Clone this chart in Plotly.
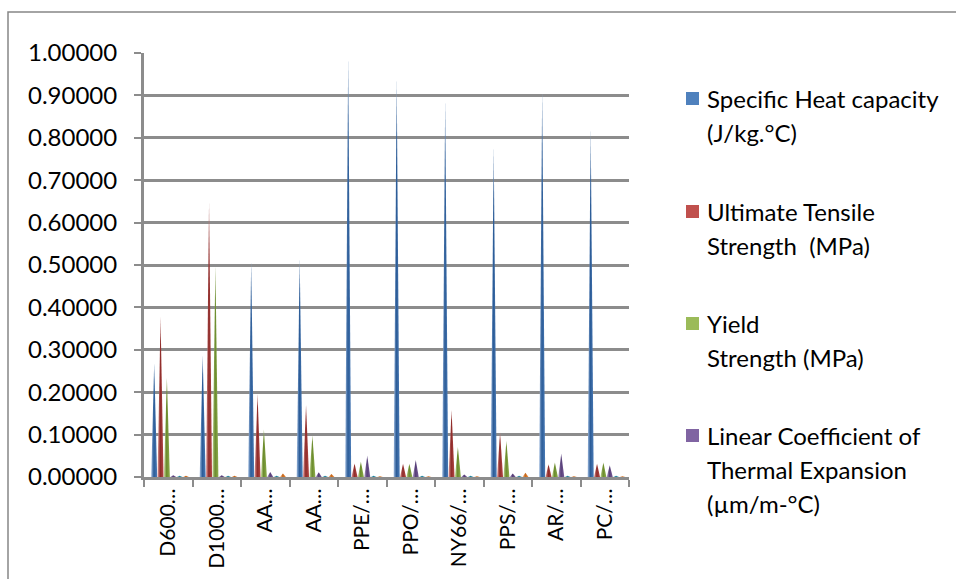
import plotly.graph_objects as go

# Materials (category labels as shown under the axis)
categories = ["D600…", "D1000…", "AA…", "AA…", "PPE/…", "PPO/…", "NY66/…", "PPS/…", "AR/…", "PC/…"]

# Normalised property values per material
specific_heat = [0.268, 0.287, 0.508, 0.516, 0.990, 0.942, 0.889, 0.780, 0.913, 0.823]
ultimate_tensile = [0.378, 0.646, 0.196, 0.170, 0.032, 0.031, 0.158, 0.105, 0.030, 0.031]
yield_strength = [0.234, 0.498, 0.112, 0.098, 0.036, 0.031, 0.071, 0.085, 0.034, 0.034]
thermal_expansion = [0.004, 0.004, 0.012, 0.011, 0.050, 0.040, 0.006, 0.008, 0.055, 0.028]
series_five = [0.003, 0.003, 0.003, 0.003, 0.003, 0.003, 0.003, 0.003, 0.003, 0.003]
series_six = [0.003, 0.003, 0.008, 0.007, 0.002, 0.002, 0.002, 0.010, 0.002, 0.002]

y_ticks = [0.0, 0.1, 0.2, 0.3, 0.4, 0.5, 0.6, 0.7, 0.8, 0.9, 1.0]

series = [
    ("Specific Heat capacity<br>(J/kg.°C)", specific_heat, "#4F81BD", ("#9DB9DE", "#2C5C97", "#4A7BB7"), True),
    ("Ultimate Tensile<br>Strength  (MPa)", ultimate_tensile, "#C0504D", ("#E29C9A", "#8E2C2A", "#B44744"), True),
    ("Yield<br>Strength (MPa)", yield_strength, "#9BBB59", ("#C9DC9F", "#6A8A2C", "#8FAF4E"), True),
    ("Linear Coefficient of<br>Thermal Expansion<br>(µm/m-°C)", thermal_expansion, "#8064A2", ("#B7A4CE", "#573F78", "#755A96"), True),
    ("Series 5", series_five, "#4BACC6", ("#96D0E0", "#237F98", "#44A1BA"), False),
    ("Series 6", series_six, "#F79646", ("#FBC99E", "#C4661A", "#EE8A38"), False),
]

# Pixel frame of the plotting area
W, H = 956, 579
PX_L, PX_R = 144, 629
PY_T, PY_B = 53, 477


def px(x):
    return (x - PX_L) / (PX_R - PX_L)


def py(y):
    return (PY_B - y) / (PY_B - PY_T)


first_offset, step, half_w = 0.21, 0.131, 0.062

fig = go.Figure()
for s, (name, vals, color, shades, _) in enumerate(series):
    light, dark, mid = shades
    for i, v in enumerate(vals):
        cx = i + first_offset + s * step
        fig.add_trace(go.Scatter(
            x=[cx - half_w, cx, cx + half_w, cx - half_w],
            y=[0, v, 0, 0],
            mode="lines",
            fill="toself",
            line=dict(width=0, color=color),
            fillgradient=dict(type="horizontal",
                              colorscale=[[0, light], [0.45, dark], [1, mid]]),
            name=name.replace("<br>", " "),
            showlegend=False,
            hoverinfo="skip",
        ))
        # pale fade toward the cone tip
        f = 0.15
        fig.add_trace(go.Scatter(
            x=[cx - half_w * f, cx, cx + half_w * f, cx - half_w * f],
            y=[v * (1 - f), v, v * (1 - f), v * (1 - f)],
            mode="lines",
            fill="toself",
            line=dict(width=0),
            fillgradient=dict(type="vertical",
                              colorscale=[[0, "rgba(255,255,255,0)"], [1, "rgba(255,255,255,0.75)"]]),
            showlegend=False,
            hoverinfo="skip",
        ))

font_family = "Lato, Carlito, Calibri, sans-serif"
fs = 24

fig.update_layout(
    width=W, height=H,
    margin=dict(l=PX_L, r=W - PX_R, t=PY_T, b=H - PY_B, autoexpand=False),
    paper_bgcolor="white",
    plot_bgcolor="white",
    showlegend=False,
    font=dict(family=font_family, size=fs, color="black"),
    xaxis=dict(
        range=[0, len(categories)],
        tickvals=[i + 0.5 for i in range(len(categories))],
        ticktext=categories,
        tickangle=-90,
        ticks="",
        showgrid=False,
        zeroline=False,
        showline=True,
        linecolor="#8C8C8C",
        linewidth=3,
        minor=dict(tickvals=list(range(len(categories) + 1)), ticks="outside",
                   ticklen=7, tickcolor="#8C8C8C", tickwidth=2),
        tickfont=dict(family=font_family, size=21),
        ticklabelstandoff=0,
        automargin=False,
        fixedrange=True,
    ),
    yaxis=dict(
        range=[0, 1.0],
        tickvals=y_ticks,
        tickformat=".5f",
        ticks="outside",
        ticklen=7,
        tickcolor="#8C8C8C",
        tickwidth=2,
        showline=True,
        linecolor="#8C8C8C",
        linewidth=3,
        showgrid=True,
        gridcolor="#8C8C8C",
        gridwidth=3,
        zeroline=False,
        ticklabelstandoff=12,
        tickfont=dict(family=font_family, size=fs),
        automargin=False,
        fixedrange=True,
    ),
)

# Outer chart border
fig.add_shape(type="rect", xref="paper", yref="paper",
              x0=px(8), x1=px(W + 20), y0=py(H + 20), y1=py(12),
              line=dict(color="#868686", width=1.5), fillcolor="rgba(0,0,0,0)", layer="below")

# Legend drawn beside the plot
legend_rows = [98, 211, 323, 435]
line_gap = 34
for (name, vals, color, shades, show), y0 in zip(series, legend_rows):
    if not show:
        continue
    fig.add_shape(type="rect", xref="paper", yref="paper",
                  x0=px(686), x1=px(699), y0=py(y0 + 7), y1=py(y0 - 6),
                  line=dict(width=0), fillcolor=color)
    for k, line in enumerate(name.split("<br>")):
        fig.add_annotation(xref="paper", yref="paper", x=px(705), y=py(y0 + k * line_gap),
                           text=line, showarrow=False, xanchor="left", yanchor="middle",
                           font=dict(family=font_family, size=fs, color="black"))

fig.write_html("out.html")
